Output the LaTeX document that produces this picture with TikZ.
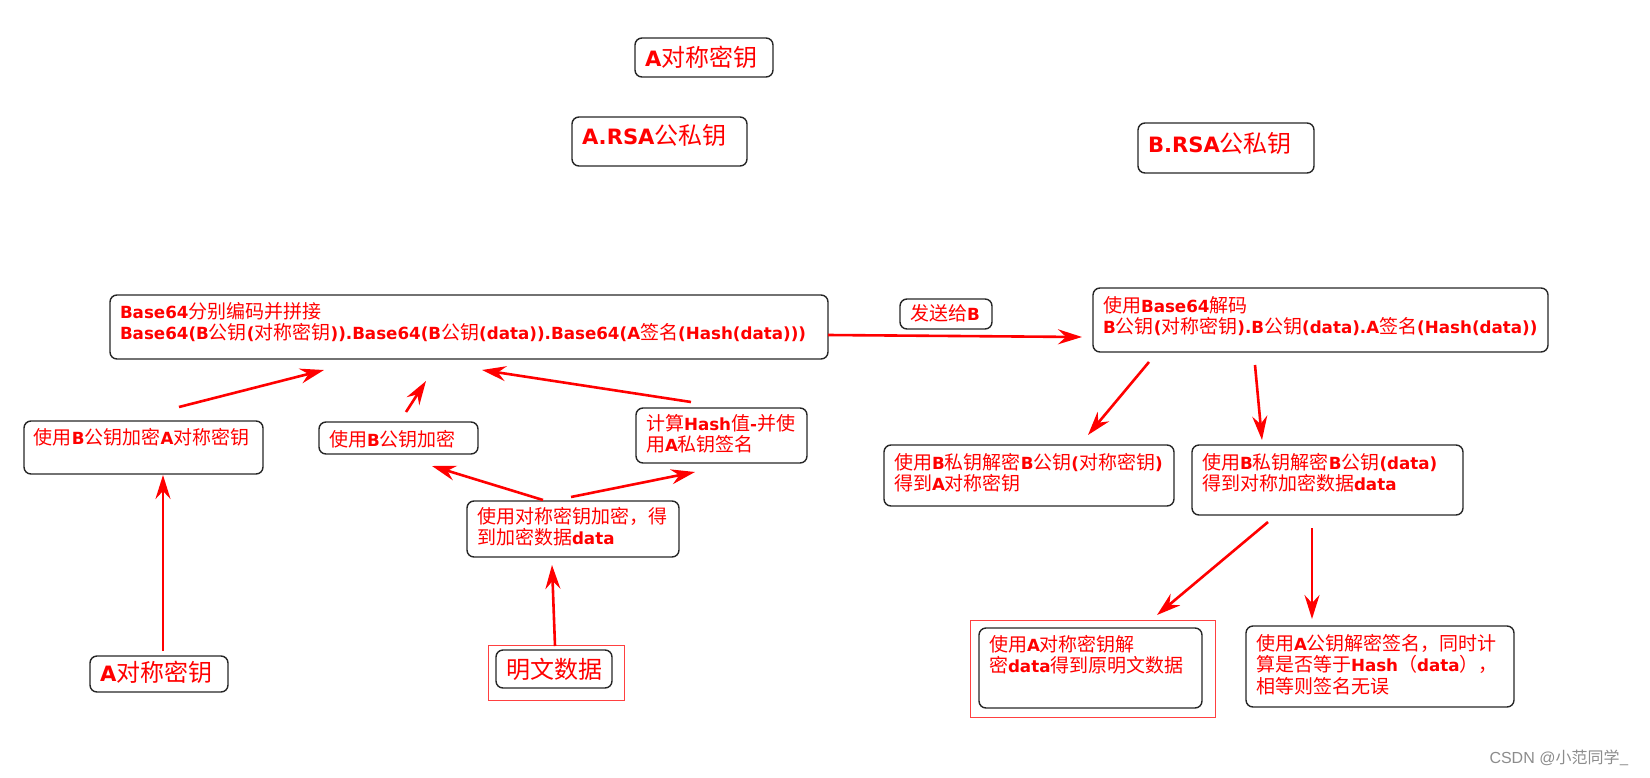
\documentclass[tikz,border=0pt]{standalone}
\usepackage{fontspec}
\setmainfont{Noto Sans CJK SC}
\newfontfamily\lat{DejaVu Sans}[Scale=0.88]
\newfontfamily\wmfont{Liberation Sans}
\usetikzlibrary{arrows.meta}
\newcommand{\ltb}[1]{{\lat\bfseries #1}}
% [first baseline]{width}{height}{text}
\newcommand{\bx}[4][23]{\parbox[t][#3pt][t]{#2pt}{\raggedright\rule{0pt}{#1pt}#4}}
\tikzset{
  bx/.style={draw=black!85,line width=1.4pt,rounded corners=7pt,text=red,
    inner xsep=10pt,inner ysep=0pt,outer sep=0pt,anchor=north west,
    font=\fontsize{19}{21.5}\selectfont},
  lg/.style={bx,font=\fontsize{24}{28}\selectfont},
  arr/.style={red,line width=2.6pt,-{Stealth[length=24pt,width=15pt,inset=8pt]}},
  hl/.style={draw=red!75,line width=0.9pt}
}
\begin{document}
\begin{tikzpicture}[x=1pt,y=-1pt]
\useasboundingbox (0,0) rectangle (1650,777);
% keys
\node[lg] (keyA) at (635,38) {\bx[28]{118}{39}{\ltb{A}对称密钥}};
\node[lg] (rsaA) at (572,117) {\bx[27]{155}{49}{\ltb{A.RSA}公私钥}};
\node[lg] (rsaB) at (1138,123) {\bx[29]{156}{50}{\ltb{B.RSA}公私钥}};
% sender side
\node[bx] (big) at (110,295) {\bx{698}{64}{\ltb{Base64}分别编码并拼接\\
  \ltb{Base64(B}公钥\ltb{(}对称密钥\ltb{)).Base64(B}公钥\ltb{(data)).Base64(A}签名\ltb{(Hash(data)))}}};
\node[bx] (send) at (900,299) {\bx[21]{72}{30}{发送给\ltb{B}}};
\node[bx] (encK) at (24,421) {\bx{219}{53}{使用\ltb{B}公钥加密\ltb{A}对称密钥}};
\node[bx] (encD) at (319,422) {\bx[24]{139}{32}{使用\ltb{B}公钥加密}};
\node[bx] (sign) at (636,408) {\bx[22]{151}{55}{计算\ltb{Hash}值\ltb{-}并使\\用\ltb{A}私钥签名}};
\node[bx] (sym) at (467,501) {\bx[22]{192}{56}{使用对称密钥加密，得\\到加密数据\ltb{data}}};
\node[lg] (keyA2) at (90,656) {\bx[25]{118}{36}{\ltb{A}对称密钥}};
\node[lg] (plain) at (496,650) {\bx[28]{96}{38}{明文数据}};
\draw[hl] ([shift={(-8,-5)}]plain.north west) rectangle ([shift={(12,12)}]plain.south east);
% receiver side
\node[bx] (dec64) at (1093,288) {\bx[24]{435}{64}{使用\ltb{Base64}解码\\
  \ltb{B}公钥\ltb{(}对称密钥\ltb{).B}公钥\ltb{(data).A}签名\ltb{(Hash(data))}}};
\node[bx] (decK) at (884,445) {\bx[24]{270}{61}{使用\ltb{B}私钥解密\ltb{B}公钥\ltb{(}对称密钥\ltb{)}\\得到\ltb{A}对称密钥}};
\node[bx] (decD) at (1192,445) {\bx[24]{251}{70}{使用\ltb{B}私钥解密\ltb{B}公钥\ltb{(data)}\\得到对称加密数据\ltb{data}}};
\node[bx] (decM) at (979,628) {\bx{203}{80}{使用\ltb{A}对称密钥解\\密\ltb{data}得到原明文数据}};
\draw[hl] ([shift={(-9,-8)}]decM.north west) rectangle ([shift={(13,9)}]decM.south east);
\node[bx] (verify) at (1246,626) {\bx[24]{248}{81}{使用\ltb{A}公钥解密签名，同时计\\算是否等于\ltb{Hash}（\ltb{data}），\\相等则签名无误}};
% arrows
\draw[arr] ([shift={(155,-14)}]encK.north west) -- ([shift={(214,11)}]big.south west);
\draw[arr] ([shift={(87,-10)}]encD.north west) -- ([shift={(316,22)}]big.south west);
\draw[arr] ([shift={(55,-6)}]sign.north west) -- ([shift={(372,11)}]big.south west);
\draw[arr] ([shift={(76,-1)}]sym.north west) -- ([shift={(113,12)}]encD.south west);
\draw[arr] ([shift={(104,-4)}]sym.north west) -- ([shift={(59,9)}]sign.south west);
\draw[arr] ([shift={(73,-5)}]keyA2.north west) -- ([shift={(139,1)}]encK.south west);
\draw[arr] ([shift={(59,-4)}]plain.north west) -- ([shift={(85,8)}]sym.south west);
\draw[arr] ([shift={(0,40)}]big.north east) -- ([shift={(-11,49)}]dec64.north west);
\draw[arr] ([shift={(56,10)}]dec64.south west) -- ([shift={(204,-10)}]decK.north west);
\draw[arr] ([shift={(162,13)}]dec64.south west) -- ([shift={(70,-5)}]decD.north west);
\draw[arr] ([shift={(76,7)}]decD.south west) -- ([shift={(178,-13)}]decM.north west);
\draw[arr] ([shift={(120,13)}]decD.south west) -- ([shift={(66,-7)}]verify.north west);
\node[anchor=east,text=black!45,font=\fontsize{16}{18}\selectfont] (wm) at (1632,758) {{\wmfont CSDN @}小范同学\_};
\end{tikzpicture}
\end{document}
